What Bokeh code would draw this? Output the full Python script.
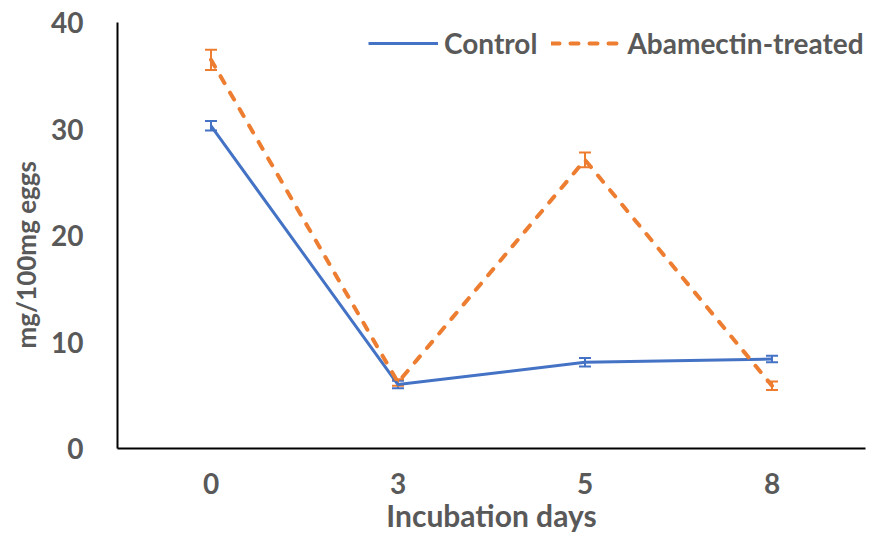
from bokeh.plotting import figure
from bokeh.models import ColumnDataSource, Whisker, TeeHead, Legend, LegendItem, Title
from bokeh.embed import file_html
from bokeh.resources import INLINE

days = ["0", "3", "5", "8"]
control = [30.3, 6.0, 8.1, 8.4]
control_err = [0.45, 0.35, 0.4, 0.3]
abamectin = [36.5, 6.2, 27.1, 5.9]
abamectin_err = [0.95, 0.3, 0.7, 0.4]

FONT = "Lato"
GRAY = "#595959"
BLUE = "#4472C4"
ORANGE = "#ED7D31"

p = figure(width=868, height=536, x_range=days, y_range=(0, 40),
           output_backend="svg", toolbar_location=None,
           min_border_left=117, min_border_right=3, min_border_top=22, min_border_bottom=88)
p.outline_line_color = None
p.grid.grid_line_color = None
p.background_fill_color = "white"

src_c = ColumnDataSource(dict(x=days, y=control,
                              up=[v + e for v, e in zip(control, control_err)],
                              lo=[v - e for v, e in zip(control, control_err)]))
src_a = ColumnDataSource(dict(x=days, y=abamectin,
                              up=[v + e for v, e in zip(abamectin, abamectin_err)],
                              lo=[v - e for v, e in zip(abamectin, abamectin_err)]))

r_c = p.line("x", "y", source=src_c, line_color=BLUE, line_width=3)
r_a = p.line("x", "y", source=src_a, line_color=ORANGE, line_width=4,
             line_dash="8 11", line_cap="round")

for src, col in ((src_c, BLUE), (src_a, ORANGE)):
    w = Whisker(source=src, base="x", upper="up", lower="lo", line_color=col, line_width=2,
                upper_head=TeeHead(size=12, line_color=col, line_width=2),
                lower_head=TeeHead(size=12, line_color=col, line_width=2))
    p.add_layout(w)

for ax in (p.xaxis[0], p.yaxis[0]):
    ax.axis_line_color = "black"
    ax.axis_line_width = 2
    ax.major_tick_line_color = None
    ax.minor_tick_line_color = None
    ax.major_label_text_font = FONT
    ax.major_label_text_font_style = "bold"
    ax.major_label_text_color = GRAY
    ax.major_label_text_font_size = "28px"
    ax.axis_label_text_font = FONT
    ax.axis_label_text_font_style = "bold"
    ax.axis_label_text_color = GRAY

p.yaxis.ticker = [0, 10, 20, 30, 40]
p.yaxis.major_label_standoff = 28
p.xaxis.major_label_standoff = 18
p.xaxis.axis_label = "Incubation days"
p.xaxis.axis_label_text_font_size = "30px"
p.xaxis.axis_label_standoff = 0

ytitle = Title(text="mg/100mg eggs", align="left", offset=100, vertical_align="middle",
               standoff=12, text_font=FONT, text_font_style="bold", text_color=GRAY,
               text_font_size="26px")
p.add_layout(ytitle, "left")

legend = Legend(items=[LegendItem(label="Control", renderers=[r_c]),
                       LegendItem(label="Abamectin-treated", renderers=[r_a])],
                orientation="horizontal", location=(251, 388),
                border_line_color=None, background_fill_alpha=0,
                label_text_font=FONT, label_text_font_style="bold",
                label_text_color=GRAY, label_text_font_size="28px",
                glyph_width=70, spacing=14, label_standoff=6, padding=0, margin=0)
p.add_layout(legend, "center")

open("out.html", "w").write(file_html(p, INLINE))
